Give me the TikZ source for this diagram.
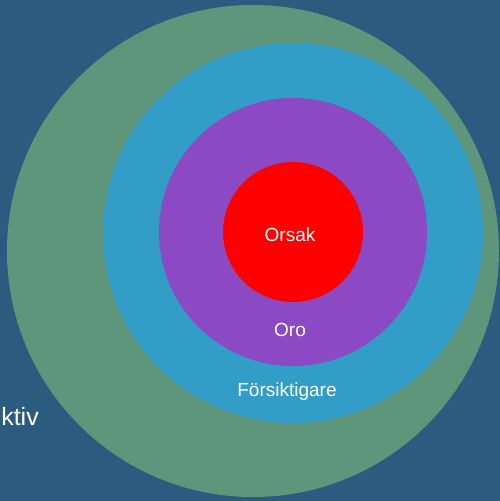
\documentclass[tikz,border=0pt]{standalone}
\usepackage{fontspec}
\setmainfont{Liberation Sans}
\usetikzlibrary{positioning}
\definecolor{bgblue}{RGB}{43,91,126}
\definecolor{ringgreen}{RGB}{94,150,124}
\definecolor{ringblue}{RGB}{50,157,198}
\definecolor{ringpurple}{RGB}{139,74,196}
\definecolor{ringred}{RGB}{255,0,0}
\newcommand{\labelfont}{\fontsize{19}{22}\selectfont}
\newcommand{\sidefont}{\fontsize{25}{29}\selectfont}

\begin{document}
\begin{tikzpicture}[x=1pt, y=-1pt, ring/.style={circle, inner sep=0pt}, word/.style={text=white, inner sep=0pt, font=\labelfont}]
  %background and frame
  \fill[bgblue] (0,0) rectangle (500,501);
  \useasboundingbox (0,0) rectangle (500,501);

  %rings from outside in
  \node[ring, fill=ringgreen, minimum size=492pt] (G) at (253,251) {};
  \node[ring, fill=ringblue, minimum size=380pt] (B) at (293,233) {};
  \node[ring, fill=ringpurple, minimum size=268pt] (P) at (293,232) {};
  \node[ring, fill=ringred, minimum size=140pt] (R) at (293,232) {};

  %labels
  \node[word, anchor=base] (orsak) at (290,241) {Orsak};
  \node[word, anchor=base] (oro) at (290,336) {Oro};
  \node[word, anchor=base] (fors) at (287,396) {Försiktigare};
  \node[word, font=\sidefont, anchor=base east] (side) at (39,425) {ktiv};
\end{tikzpicture}
\end{document}
